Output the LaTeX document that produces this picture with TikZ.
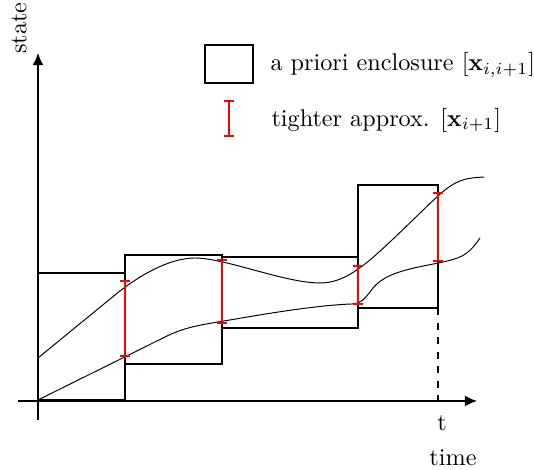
\documentclass[tikz,border=0pt]{standalone}
\usepackage{amsmath, amssymb}
\usepackage{xcolor}
\usepackage{tikz}
\usetikzlibrary{arrows.meta,calc,positioning}
\tikzset{
  enclbox/.style={semithick},
  tightbar/.style={red, thick, {Bar[width=4pt]}-{Bar[width=4pt]}},
  traj/.style={thin},
}

\begin{document}
\begin{tikzpicture}[x=0.01453cm,y=0.01453cm]
        \useasboundingbox (0,0) rectangle (534,470);
        % Draw axes
        \draw[semithick,-{Latex[length=5pt,width=4.5pt]}] (18,69) -- (477,69);
        \draw[semithick,-{Latex[length=5pt,width=4.5pt]}] (38,50) -- (38,417);
        \node[rotate=90] (state) at (19,442) {state};
        \node (tlbl) at (442,47) {t};
        \node (time) at (453,12) {time};
        % Define points
        \coordinate (T) at (438,162);
        \coordinate (Tax) at (438,66);
        % A priori enclosures
        \draw[enclbox] (38,70) rectangle (125,197);
        \draw[enclbox] (125,106) rectangle (222,215);
        \draw[enclbox] (222,142) rectangle (358,213);
        \draw[enclbox] (358,162) rectangle (438,285);
        \draw[semithick,dashed] (T) -- (Tax);
        % Trajectories
        \draw[traj] (38,112) -- (115,175) .. controls (140,195.4) and (170,212) .. (195,212)
          .. controls (225,212) and (285,187) .. (320,187)
          .. controls (340,187) and (355,198) .. (370,210)
          .. controls (400,236) and (430,268) .. (445,280)
          .. controls (460,292) and (470,292) .. (484,293);
        \draw[traj] (38,70) -- (165,133) .. controls (185,143) and (200,145) .. (230,150)
          .. controls (270,157) and (320,165) .. (352,166)
          .. controls (362,166.5) and (365,172) .. (370,178)
          .. controls (378,190) and (390,196) .. (410,201)
          .. controls (430,206) and (450,208) .. (462,214)
          .. controls (470,218) and (476,226) .. (480,232);
        % Tighter approximations
        \draw[tightbar] (125,113) -- (125,190);
        \draw[tightbar] (222,146) -- (222,211);
        \draw[tightbar] (358,165) -- (358,205);
        \draw[tightbar] (438,208) -- (438,278);
        % Legend
        \node[draw,enclbox,inner sep=0pt,
          minimum width=0.697cm,minimum height=0.552cm] (legbox) at (229,406) {};
        \node[anchor=west] (legencl) at (262,405) {a priori enclosure $[\mathbf{x}_{i,i+1}]$};
        \coordinate (legtop) at (229,370);
        \coordinate (legbot) at (229,333);
        \draw[tightbar] (legbot) -- (legtop);
        \node[anchor=west] (legtight) at (263,350) {tighter approx. $[\mathbf{x}_{i+1}]$};
\end{tikzpicture}
\end{document}
